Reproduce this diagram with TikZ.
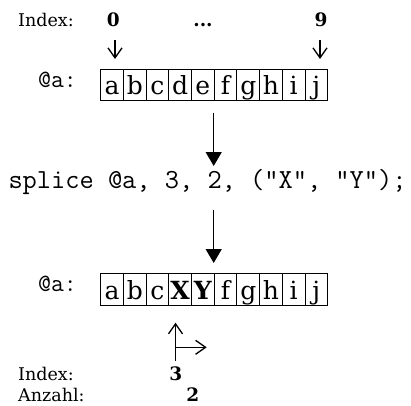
\documentclass[tikz,border=0pt]{standalone}
\usepackage{fontspec}
\setmainfont{DejaVu Serif}
\usetikzlibrary{arrows.meta}
\tikzset{
  cell/.style={draw, line width=0.9pt, minimum width=22.7pt, minimum height=31.4pt,
    inner sep=0pt, text height=24pt, text depth=5pt, font=\fontsize{25}{28}\selectfont},
  lbl/.style={anchor=base west, inner sep=0pt, font=\fontsize{17.5}{20}\selectfont},
  num/.style={anchor=base, inner sep=0pt, font=\fontsize{18.5}{21}\selectfont\bfseries},
  code/.style={anchor=base, inner sep=0pt, font=\ttfamily\fontsize{27.6}{30}\selectfont},
  arr/.style={anchor=base west, inner sep=0pt, font=\ttfamily\fontsize{25}{28}\selectfont},
  thin arrow/.style={line width=1.3pt, -{Straight Barb[length=10pt,width=14pt,line width=1.3pt]}},
  big arrow/.style={line width=1.3pt, -{Triangle[length=14pt,width=16pt]}}
}
\begin{document}
\begin{tikzpicture}[x=1pt,y=-1pt]
\useasboundingbox (0,0) rectangle (411,405);
% top labels
\node[lbl] (idxt) at (18,26.7) {Index:};
\node[num] (n0) at (113.3,26.7) {0};
\node[num] (ndots) at (203,26.7) {...};
\node[num] (n9) at (321,26.7) {9};
\coordinate (a0s) at (115,40); \coordinate (a0e) at (115,59);
\coordinate (a9s) at (320,40); \coordinate (a9e) at (320,59);
\draw[thin arrow] (a0s) -- (a0e);
\draw[thin arrow] (a9s) -- (a9e);
% top array
\node[arr] (at) at (38,87) {@a:};
\foreach \l [count=\i from 0] in {a,b,c,d,e,f,g,h,i,j}
  \node[cell] (t\i) at (112.05+22.7*\i,85) {\l};
% arrow 1
\coordinate (b1s) at (213.7,112.7); \coordinate (b1e) at (213.7,166);
\draw[big arrow] (b1s) -- (b1e);
% code
\node[code] (splice) at (207.5,188) {splice @a, 3, 2, ("X", "Y");};
% arrow 2
\coordinate (b2s) at (213.7,210); \coordinate (b2e) at (213.7,263);
\draw[big arrow] (b2s) -- (b2e);
% bottom array
\node[arr] (ab) at (38,291.5) {@a:};
\foreach \l [count=\i from 0] in {a,b,c,{\bfseries X},{\bfseries Y},f,g,h,i,j}
  \node[cell] (u\i) at (112.05+22.7*\i,289.5) {\l};
% bottom arrows
\coordinate (vs) at (175.5,361); \coordinate (ve) at (175.5,322.7);
\coordinate (hs) at (175.5,347.3); \coordinate (he) at (206.7,347.3);
\draw[thin arrow] (vs) -- (ve);
\draw[thin arrow] (hs) -- (he);
% bottom labels
\node[lbl] (idxb) at (18,380) {Index:};
\node[num] (n3) at (175.7,380) {3};
\node[lbl] (anz) at (18,401.7) {Anzahl:};
\node[num] (n2) at (192.7,401.7) {2};
\end{tikzpicture}
\end{document}
